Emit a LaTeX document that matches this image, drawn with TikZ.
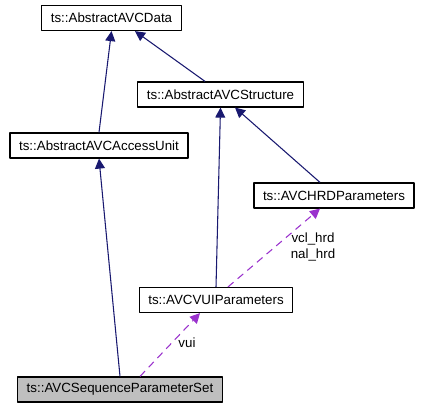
\documentclass[tikz,border=0pt]{standalone}
\usepackage{fontspec}
\setmainfont{Liberation Sans}
\usetikzlibrary{arrows.meta}

\begin{document}
\begin{tikzpicture}[
    x=0.75pt,
    y=-0.75pt,
    line join=round,
    every node/.style={font=\fontsize{10}{12}\selectfont},
    cls/.style={draw=black, line width=0.9pt, fill=white, minimum height=18.75pt,
        inner xsep=6.8pt, inner ysep=0pt},
    inherit/.style={draw=edgenavy, line width=0.8pt,
        -{Triangle[length=7.5pt,width=7.5pt]}},
    usage/.style={draw=usepurple, line width=0.8pt, dash pattern=on 5.5pt off 4pt,
        -{Triangle[length=7.5pt,width=7.5pt]}}
]

\definecolor{edgenavy}{RGB}{25,25,112}
\definecolor{usepurple}{RGB}{154,50,205}
\definecolor{selgray}{RGB}{191,191,191}

\useasboundingbox (0,0) rectangle (423,408);

% -----------------------------
% Classes
% -----------------------------
\node[cls] (avcdata) at (111.5,18) {ts::AbstractAVCData};
\node[cls] (avcstruct) at (220.5,94.5) {ts::AbstractAVCStructure};
\node[cls] (accessunit) at (99,145.5) {ts::AbstractAVCAccessUnit};
\node[cls] (hrdparams) at (334,195.5) {ts::AVCHRDParameters};
\node[cls] (vuiparams) at (216,300) {ts::AVCVUIParameters};
\node[cls, fill=selgray] (spsset) at (120,389.5) {ts::AVCSequenceParameterSet};

% -----------------------------
% Inheritance
% -----------------------------
\draw[inherit] (accessunit.north) -- (avcdata.south);
\draw[inherit] ([xshift=-11.6pt]avcstruct.north) -- ([xshift=17.6pt]avcdata.south);
\draw[inherit] (vuiparams.north) -- (avcstruct.south);
\draw[inherit] ([xshift=-10.5pt]hrdparams.north) -- ([xshift=10.9pt]avcstruct.south);
\draw[inherit] (spsset.north) -- (accessunit.south);

% -----------------------------
% Usage (members)
% -----------------------------
\draw[usage] ([xshift=15pt]spsset.north) -- ([xshift=-12pt]vuiparams.south);
\draw[usage] ([xshift=9pt]vuiparams.north) -- ([xshift=-10.5pt]hrdparams.south);

\node (vuilabel) at (187,343) {vui};
\node[align=center, inner sep=0pt] (hrdlabel) at (313,247)
{vcl\_hrd\\nal\_hrd};

\end{tikzpicture}
\end{document}
